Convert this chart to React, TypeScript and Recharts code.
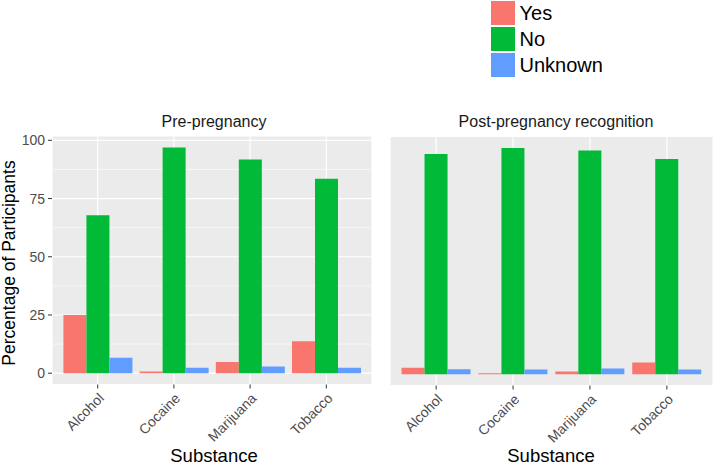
import React from 'react';
import { BarChart, Bar, XAxis, YAxis, CartesianGrid, Legend } from 'recharts';

const categories = ['Alcohol', 'Cocaine', 'Marijuana', 'Tobacco'];
const seriesNames = ['Yes', 'No', 'Unknown'];
const seriesColors = ['#F8766D', '#00BA38', '#619CFF'];

const preYes = [25.0, 0.7, 4.8, 13.7];
const preNo = [67.8, 96.9, 91.8, 83.5];
const preUnknown = [6.6, 2.3, 2.9, 2.3];

const postYes = [2.8, 0.4, 1.1, 5.0];
const postNo = [94.3, 96.9, 95.9, 92.2];
const postUnknown = [2.1, 2.0, 2.4, 2.0];

const yTicks = [0, 25, 50, 75, 100];
const yMinor = [12.5, 37.5, 62.5, 87.5];
const yDomain = [-4.85, 101.85];

const FONT = '"Liberation Sans", Arial, Helvetica, sans-serif';

const build = (yes: number[], no: number[], unk: number[]) =>
  categories.map((name, i) => ({ name, Yes: yes[i], No: no[i], Unknown: unk[i] }));

const preData = build(preYes, preNo, preUnknown);
const postData = build(postYes, postNo, postUnknown);

const XTick = (props: any) => {
  const { x, y, payload } = props;
  return (
    <text
      x={x}
      y={y}
      transform={`rotate(-45, ${x}, ${y})`}
      textAnchor="end"
      dy="0.72em"
      fill="#4D4D4D"
      fontSize={14}
      fontFamily={FONT}
    >
      {payload.value}
    </text>
  );
};

const LegendContent = (props: any) => {
  const payload = props.payload || [];
  const items = seriesNames.map((name, i) => {
    const found = payload.find((p: any) => p.value === name);
    return { value: name, color: found ? found.color : seriesColors[i] };
  });
  return (
    <div style={{ fontFamily: FONT }}>
      {items.map((p: any) => (
        <div key={p.value} style={{ display: 'flex', alignItems: 'center', height: 26 }}>
          <div style={{ width: 24, height: 24, background: p.color }} />
          <span style={{ marginLeft: 5, fontSize: 20, lineHeight: '24px', color: '#000' }}>{p.value}</span>
        </div>
      ))}
    </div>
  );
};

const renderBars = () =>
  seriesNames.map((s, i) => (
    <Bar key={s} dataKey={s} name={s} fill={seriesColors[i]} isAnimationActive={false} />
  ));

const Panel = (props: any) => {
  const { data, width, top, bottomPlot, yAxisWidth, showYLabels, right, legend } = props;
  const height = 466;
  const xAxisHeight = 30;
  const plotWidth = width - yAxisWidth - right;
  const band = plotWidth / 4.2;
  const pad = band * 0.1;
  return (
    <BarChart
      width={width}
      height={height}
      data={data}
      margin={{ top, right, left: 0, bottom: height - bottomPlot - xAxisHeight }}
      barCategoryGap="5%"
      barGap={0}
    >
      <CartesianGrid fill="#EBEBEB" fillOpacity={1} stroke="#FFFFFF" strokeWidth={1.2} />
      <CartesianGrid vertical={false} horizontalValues={yMinor} stroke="#FFFFFF" strokeWidth={0.6} />
      <XAxis
        dataKey="name"
        type="category"
        interval={0}
        height={xAxisHeight}
        axisLine={false}
        tickLine={{ stroke: '#333333', strokeWidth: 1 }}
        tickSize={4}
        tickMargin={3.5}
        padding={{ left: pad, right: pad }}
        tick={<XTick />}
      />
      <YAxis
        type="number"
        domain={yDomain}
        allowDataOverflow
        ticks={yTicks}
        width={yAxisWidth}
        axisLine={false}
        tickLine={{ stroke: '#333333', strokeWidth: 1 }}
        tickSize={4}
        tickMargin={3}
        tick={showYLabels ? { fill: '#4D4D4D', fontSize: 14, fontFamily: FONT } : false}
      />
      {legend}
      {renderBars()}
    </BarChart>
  );
};

export default function App() {
  return (
    <div style={{ position: 'absolute', left: 0, top: 0, width: 714, height: 466, background: '#FFFFFF', fontFamily: FONT }}>
      <div style={{ position: 'absolute', left: 0, top: 0 }}>
        <Panel data={preData} width={372} top={136} bottomPlot={384.5} yAxisWidth={52} right={0} showYLabels />
      </div>
      <div style={{ position: 'absolute', left: 372, top: 0 }}>
        <Panel
          data={postData}
          width={342}
          top={136.5}
          bottomPlot={385.5}
          yAxisWidth={18}
          right={1}
          showYLabels={false}
          legend={
            <Legend
              layout="vertical"
              align="center"
              verticalAlign="middle"
              wrapperStyle={{ left: 490.5 - 372, top: 0, right: 'auto', bottom: 'auto', width: 160, height: 80 }}
              content={<LegendContent />}
            />
          }
        />
      </div>
      <svg
        width={714}
        height={466}
        style={{ position: 'absolute', left: 0, top: 0, pointerEvents: 'none' }}
        fontFamily={FONT}
      >
        <text x={214} y={127.3} textAnchor="middle" fontSize={16} fill="#1A1A1A">Pre-pregnancy</text>
        <text x={556} y={126.8} textAnchor="middle" fontSize={16} fill="#1A1A1A">Post-pregnancy recognition</text>
        <text x={214} y={461.5} textAnchor="middle" fontSize={18.5} fill="#000000">Substance</text>
        <text x={551} y={461.5} textAnchor="middle" fontSize={18.5} fill="#000000">Substance</text>
        <text
          x={14.5}
          y={263}
          transform="rotate(-90, 14.5, 263)"
          textAnchor="middle"
          fontSize={17.5}
          fill="#000000"
        >
          Percentage of Participants
        </text>
      </svg>
    </div>
  );
}
